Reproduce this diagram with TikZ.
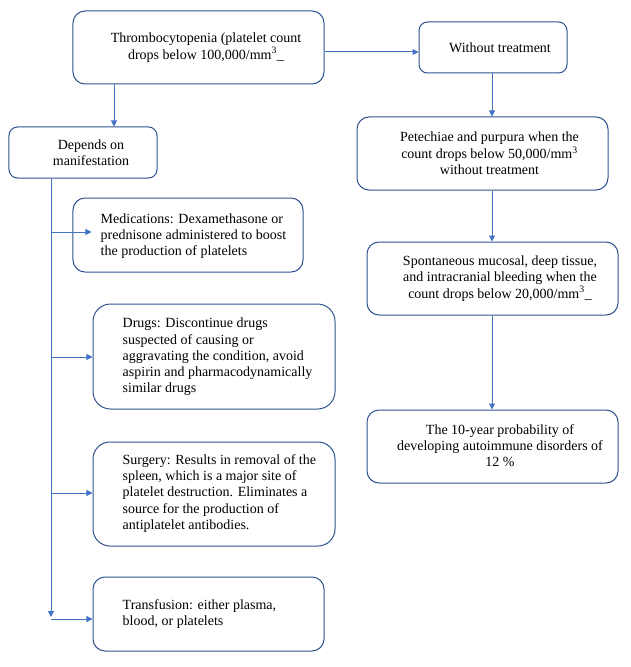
\documentclass[tikz,border=0pt]{standalone}
\usepackage{fontspec}
\setmainfont{Liberation Serif}
\usetikzlibrary{arrows.meta,calc}
\definecolor{boxline}{HTML}{2F528F}
\definecolor{arrline}{HTML}{4472C4}
\begin{document}
\begin{tikzpicture}[x=1bp,y=-1bp,
  box/.style={draw=boxline,line width=1bp,inner sep=0pt,fill=white},
  txt/.style={inner sep=0pt,font=\fontsize{14bp}{16.3bp}\selectfont,text=black},
  ctxt/.style={txt,align=center},
  ltxt/.style={txt,align=left,anchor=west},
  arr/.style={draw=arrline,line width=1bp,-{Triangle[width=6bp,length=6bp]}},
  ln/.style={draw=arrline,line width=1bp}]
\useasboundingbox (0,0) rectangle (631,667);

% boxes
\node[box,minimum width=251bp,minimum height=73bp,rounded corners=12bp] (thr) at (198.5,47.5) {};
\node[box,minimum width=148bp,minimum height=51bp,rounded corners=8.5bp] (dep) at (83,152.5) {};
\node[box,minimum width=148bp,minimum height=51bp,rounded corners=8.5bp] (wt) at (493,47.5) {};
\node[box,minimum width=251bp,minimum height=73bp,rounded corners=12bp] (pet) at (482.5,153.5) {};
\node[box,minimum width=251bp,minimum height=73bp,rounded corners=12bp] (spo) at (492.5,278.5) {};
\node[box,minimum width=251bp,minimum height=73bp,rounded corners=12bp] (ten) at (492.5,446.5) {};
\node[box,minimum width=230bp,minimum height=74bp,rounded corners=12bp] (med) at (188,235) {};
\node[box,minimum width=242bp,minimum height=105bp,rounded corners=17.5bp] (drg) at (214,356.5) {};
\node[box,minimum width=242bp,minimum height=104bp,rounded corners=17bp] (sur) at (214,494) {};
\node[box,minimum width=231bp,minimum height=74bp,rounded corners=12bp] (trn) at (208.5,614) {};

% texts
\node[ctxt] (thrT) at ($(thr.center)+(7.5,0)$) {Thrombocytopenia (platelet count\\drops below 100,000/mm\textsuperscript{3}\_};
\node[ctxt] (depT) at ($(dep.center)+(8,0)$) {Depends on\\manifestation};
\node[ctxt] (wtT) at ($(wt.center)+(7,0)$) {Without treatment};
\node[ctxt] (petT) at ($(pet.center)+(7,0)$) {Petechiae and purpura when the\\count drops below 50,000/mm\textsuperscript{3}\\without treatment};
\node[ctxt] (spoT) at ($(spo.center)+(7.5,0)$) {Spontaneous mucosal, deep tissue,\\and intracranial bleeding when the\\count drops below 20,000/mm\textsuperscript{3}\_};
\node[ctxt] (tenT) at ($(ten.center)+(7.5,-1)$) {The 10-year probability of\\developing autoimmune disorders of\\12 \%};
\node[ltxt] (medT) at ($(med.west)+(28,1)$) {Medications: Dexamethasone or\\prednisone administered to boost\\the production of platelets};
\node[ltxt] (drgT) at ($(drg.west)+(30,0.5)$) {Drugs: Discontinue drugs\\suspected of causing or\\aggravating the condition, avoid\\aspirin and pharmacodynamically\\similar drugs};
\node[ltxt] (surT) at ($(sur.west)+(30,-0.5)$) {Surgery: Results in removal of the\\spleen, which is a major site of\\platelet destruction. Eliminates a\\source for the production of\\antiplatelet antibodies.};
\node[ltxt] (trnT) at ($(trn.west)+(30,0)$) {Transfusion: either plasma,\\blood, or platelets};

% helper coordinates
\coordinate (xa) at (114,0);
\coordinate (ya) at (0,52);
\coordinate (xr) at (492,0);
\coordinate (xt) at (51,0);
\coordinate (tend) at (51,617);

% connectors
\draw[arr] (thr.south -| xa) -- (dep.north -| xa);
\draw[arr] (thr.east |- ya) -- (wt.west |- ya);
\draw[arr] (wt.south -| xr) -- (pet.north -| xr);
\draw[arr] (pet.south -| xr) -- (spo.north -| xr);
\draw[arr] (spo.south -| xr) -- (ten.north -| xr);

\draw[arr] (dep.south -| xt) -- (tend);
\draw[arr] (xt |- 0,232) -- ($(med.west |- 0,232)+(19,0)$);
\draw[arr] (xt |- 0,357) -- (drg.west |- 0,357);
\draw[arr] (xt |- 0,493) -- (sur.west |- 0,493);
\draw[arr] (xt |- 0,619) -- (trn.west |- 0,619);
\end{tikzpicture}
\end{document}
